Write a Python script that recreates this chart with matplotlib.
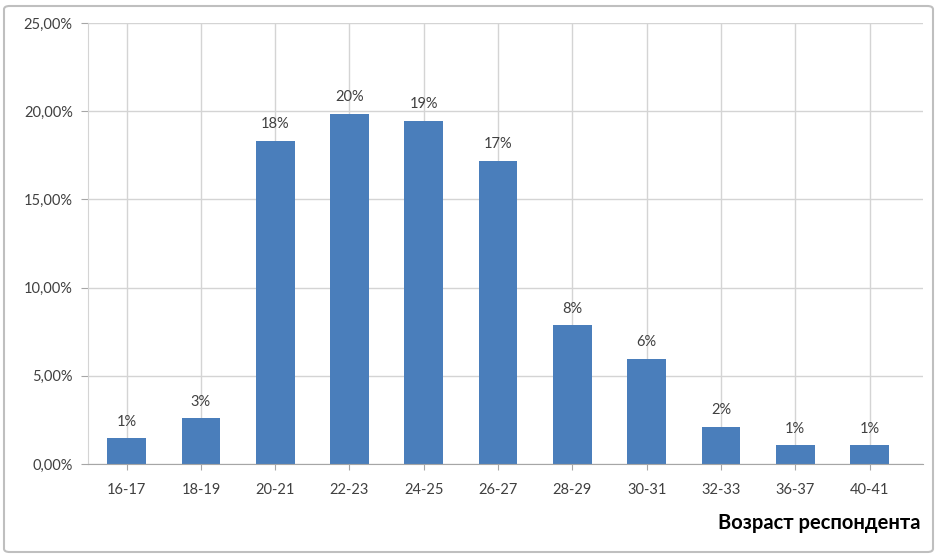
import matplotlib
matplotlib.use("Agg")
import matplotlib.pyplot as plt
from matplotlib.patches import FancyBboxPatch
import numpy as np

plt.rcParams['font.family'] = ['Lato', 'Open Sans', 'DejaVu Sans']

categories = ["16-17", "18-19", "20-21", "22-23", "24-25", "26-27",
              "28-29", "30-31", "32-33", "36-37", "40-41"]
values = [1.46, 2.59, 18.31, 19.84, 19.44, 17.2, 7.86, 5.95, 2.1, 1.05, 1.05]
yticks = [0, 5, 10, 15, 20, 25]
x_title = "Возраст респондента"

bar_color = "#4a7ebb"
text_color = "#404040"
grid_color = "#d4d4d4"

fig = plt.figure(figsize=(9.39, 5.58), dpi=100)
fig.patch.set_facecolor("white")

# outer chart border
border = FancyBboxPatch((4 / 939, 6 / 558), 929 / 939, 546 / 558,
                        boxstyle="round,pad=0,rounding_size=0.006",
                        transform=fig.transFigure, facecolor="none",
                        edgecolor="#bfbfbf", linewidth=1.5)
fig.patches.append(border)

ax = fig.add_axes([88 / 939, 1 - 464 / 558, (923 - 88) / 939, (464 - 23) / 558])
x = np.arange(len(categories))
ax.bar(x, values, width=0.52, color=bar_color, zorder=3)

ax.set_xlim(-0.52, len(categories) - 1 + 0.72)
ax.set_ylim(0, 25)
ax.set_yticks(yticks)
ax.set_yticklabels([f"{v:.2f}".replace(".", ",") + "%" for v in yticks],
                   fontsize=10.5, color=text_color)
ax.set_xticks(x)
ax.set_xticklabels(categories, fontsize=10.5, color=text_color)

ax.grid(True, axis="both", color=grid_color, linewidth=1, zorder=0)
for s in ["top", "right"]:
    ax.spines[s].set_visible(False)
ax.spines["left"].set_color(grid_color)
ax.spines["bottom"].set_color("#a6a6a6")
ax.spines["bottom"].set_zorder(4)
ax.tick_params(axis="x", length=4, color="#a6a6a6", pad=10)
ax.tick_params(axis="y", length=5, color="#a6a6a6", pad=6)

for xi, v in zip(x, values):
    ax.annotate(f"{round(v):d}%", (xi, v), xytext=(0, 7),
                textcoords="offset points", ha="center", va="bottom",
                fontsize=10.5, color=text_color)

fig.text(920 / 939, 1 - 523 / 558, x_title, ha="right", va="center",
         fontsize=14.5, fontweight="bold", color="black")

fig.savefig("out.png", dpi=100)
